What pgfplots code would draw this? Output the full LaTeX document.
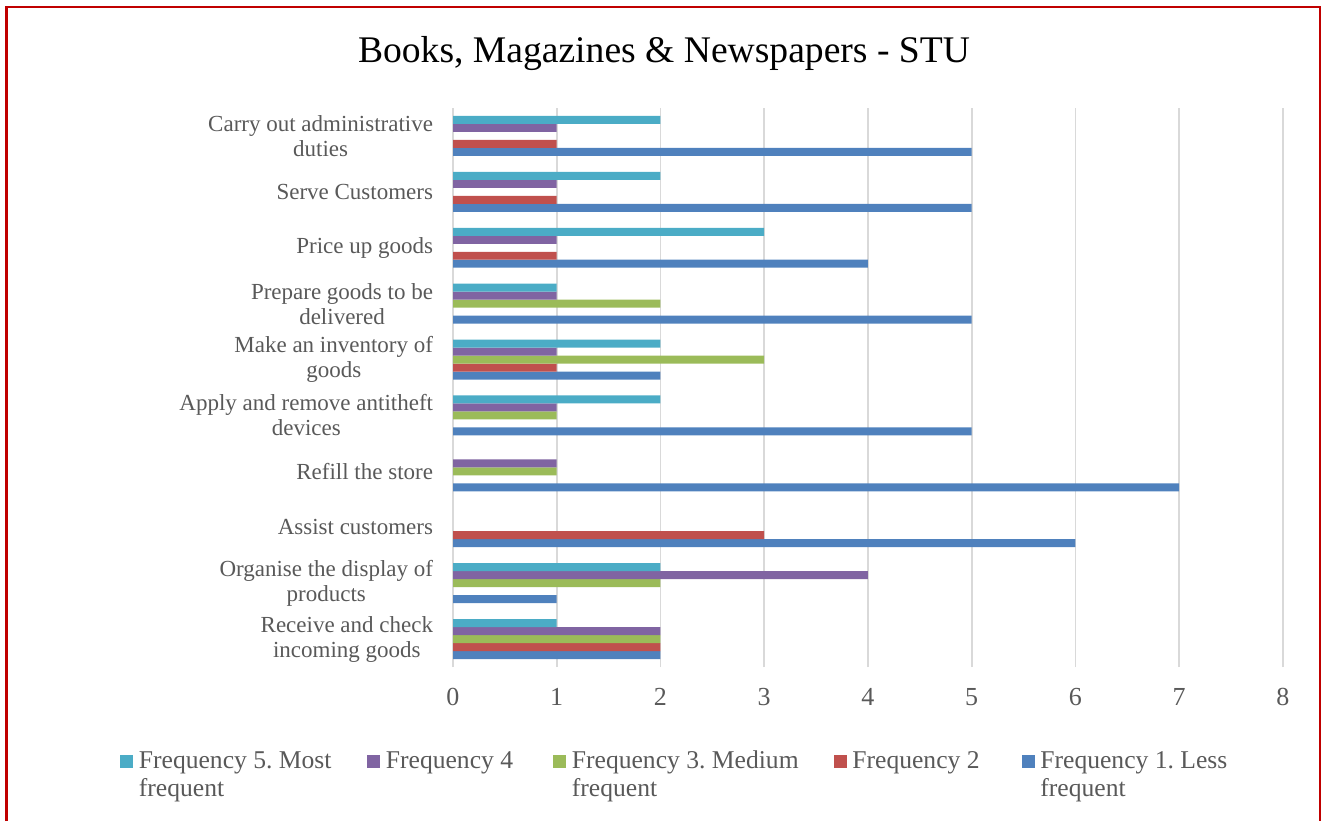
\documentclass[border=0pt]{standalone}
\usepackage{fontspec}
\setmainfont{Liberation Serif}
\usepackage{pgfplots}
\pgfplotsset{compat=1.18}
\frenchspacing
\definecolor{fa}{HTML}{4F81BD}
\definecolor{fb}{HTML}{C0504D}
\definecolor{fc}{HTML}{9BBB59}
\definecolor{fd}{HTML}{8064A2}
\definecolor{fe}{HTML}{4BACC6}
\definecolor{txt}{HTML}{595959}
\definecolor{grd}{HTML}{D9D9D9}
\definecolor{brd}{HTML}{C00000}
\newcommand{\legbox}[2]{\parbox[t]{#1}{\raggedright\frenchspacing #2}}
\begin{document}
\begin{tikzpicture}
\path[use as bounding box] (0,0) rectangle (662pt,410.5pt);
\draw[brd, line width=1.25pt] (3.25pt,0) -- (3.25pt,407.1pt) -- (660pt,407.1pt) -- (660pt,0);
\node[anchor=base, font=\fontsize{18.8}{22}\selectfont] at (332pt,379pt) {Books, Magazines \& Newspapers - STU};
\begin{axis}[
 at={(226.5pt,77pt)}, anchor=south west, scale only axis, width=415pt, height=279.5pt,
 xmin=0, xmax=8, ymin=-0.5, ymax=9.5, enlargelimits=false,
 xtick={0,...,8}, ytick={0,...,9},
 yticklabels={{Receive and check\\incoming goods},{Organise the display of\\products},{Assist customers},{Refill the store},{Apply and remove antitheft\\devices},{Make an inventory of\\goods},{Prepare goods to be\\delivered},{Price up goods},{Serve Customers},{Carry out administrative\\duties}},
 xmajorgrids, major grid style={grd, line width=0.8pt},
 axis line style={draw=none}, tick style={draw=none},
 /pgf/number format/assume math mode=true,
 xticklabel style={inner sep=0pt, yshift=-10.5pt, font=\fontsize{13}{15}\selectfont, text=txt},
 yticklabel style={inner sep=0pt, xshift=-5.5pt, align=center, font=\fontsize{11.5}{12.5}\selectfont, text=txt},
 xbar, bar width=0.142857,
 legend image code/.code={\fill[#1] (0pt,0.3pt) rectangle (6.5pt,6.8pt);},
 legend columns=5, reverse legend,
 legend style={draw=none, fill=none, inner sep=0pt, at={(-0.4012,-0.1484)}, anchor=north west,
   font=\fontsize{12.8}{14}\selectfont, text=txt, cells={anchor=base west}, nodes={inner sep=0pt},
   /tikz/every odd column/.append style={column sep=2.75pt}},
]
\addplot[fill=fa, draw=none, bar shift=-0.285714] coordinates {(2,0) (1,1) (6,2) (7,3) (5,4) (2,5) (5,6) (4,7) (5,8) (5,9)};
\addlegendentry{\legbox{100pt}{Frequency 1. Less\\frequent}}
\addplot[fill=fb, draw=none, bar shift=-0.142857] coordinates {(2,0) (3,2) (1,5) (1,7) (1,8) (1,9)};
\addlegendentry{\legbox{84.75pt}{Frequency 2}}
\addplot[fill=fc, draw=none, bar shift=0] coordinates {(2,0) (2,1) (1,3) (1,4) (3,5) (2,6)};
\addlegendentry{\legbox{131pt}{Frequency 3. Medium\\frequent}}
\addplot[fill=fd, draw=none, bar shift=0.142857] coordinates {(2,0) (4,1) (1,3) (1,4) (1,5) (1,6) (1,7) (1,8) (1,9)};
\addlegendentry{\legbox{83.75pt}{Frequency 4}}
\addplot[fill=fe, draw=none, bar shift=0.285714] coordinates {(1,0) (2,1) (2,4) (2,5) (1,6) (3,7) (2,8) (2,9)};
\addlegendentry{\legbox{114.25pt}{Frequency 5. Most\\frequent}}
\end{axis}
\end{tikzpicture}
\end{document}
